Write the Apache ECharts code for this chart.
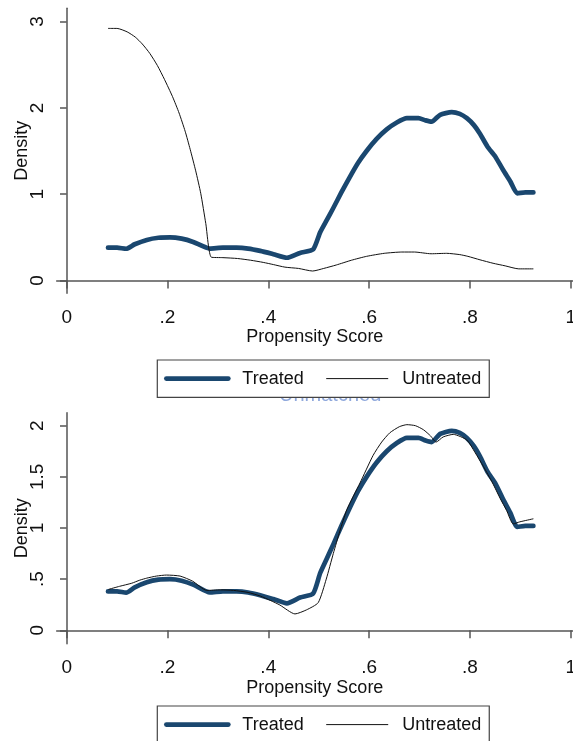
<!DOCTYPE html>
<html><head><meta charset="utf-8">
<script src="https://cdn.jsdelivr.net/npm/echarts@6/dist/echarts.min.js"></script>
<style>html,body{margin:0;padding:0;background:#fff}#c{width:573px;height:741px}</style>
</head><body><div id="c"></div>
<script>
const xTicks = [0, 0.2, 0.4, 0.6, 0.8, 1];
const yTicksTop = [0, 1, 2, 3];
const yTicksBottom = [0, 0.5, 1, 1.5, 2];
const seriesNames = ['Treated', 'Untreated'];
const hiddenTitle = 'Unmatched';

// Treated density (same in both panels)
const treated = [
  [0.082,0.38],[0.100,0.38],[0.118,0.368],[0.135,0.42],[0.159,0.47],[0.182,0.495],[0.205,0.50],
  [0.228,0.485],[0.251,0.447],[0.284,0.37],[0.310,0.38],[0.337,0.38],[0.360,0.37],[0.384,0.343],
  [0.410,0.305],[0.437,0.264],[0.463,0.32],[0.489,0.36],[0.503,0.56],[0.516,0.70],[0.529,0.84],
  [0.545,1.02],[0.562,1.20],[0.578,1.36],[0.595,1.50],[0.615,1.64],[0.635,1.75],[0.655,1.83],
  [0.675,1.88],[0.698,1.88],[0.712,1.855],[0.724,1.84],[0.741,1.92],[0.764,1.95],[0.780,1.93],
  [0.794,1.88],[0.808,1.80],[0.820,1.70],[0.835,1.55],[0.850,1.44],[0.866,1.28],[0.880,1.15],
  [0.894,1.01],[0.910,1.02],[0.926,1.02]
];
// Untreated density, top panel
const untreatedTop = [
  [0.082,2.92],[0.100,2.92],[0.120,2.88],[0.136,2.82],[0.150,2.74],[0.165,2.63],[0.180,2.49],
  [0.194,2.33],[0.210,2.13],[0.223,1.94],[0.235,1.73],[0.245,1.52],[0.256,1.27],[0.266,1.01],
  [0.276,0.66],[0.287,0.27],[0.310,0.265],[0.339,0.255],[0.365,0.235],[0.390,0.21],[0.410,0.185],
  [0.433,0.155],[0.460,0.14],[0.488,0.11],[0.510,0.14],[0.535,0.18],[0.565,0.235],[0.595,0.28],
  [0.630,0.315],[0.665,0.33],[0.690,0.33],[0.723,0.31],[0.754,0.315],[0.780,0.30],[0.796,0.28],
  [0.820,0.24],[0.846,0.20],[0.870,0.17],[0.897,0.135],[0.926,0.135]
];
// Untreated density, bottom panel
const untreatedBottom = [
  [0.083,0.40],[0.105,0.43],[0.129,0.46],[0.145,0.49],[0.159,0.51],[0.178,0.53],[0.198,0.54],
  [0.225,0.53],[0.250,0.48],[0.278,0.39],[0.305,0.395],[0.331,0.39],[0.360,0.37],[0.384,0.335],
  [0.405,0.29],[0.423,0.247],[0.453,0.16],[0.476,0.20],[0.499,0.27],[0.515,0.50],[0.529,0.75],
  [0.542,0.97],[0.556,1.18],[0.582,1.44],[0.608,1.71],[0.625,1.84],[0.641,1.93],[0.660,1.99],
  [0.675,2.01],[0.692,2.00],[0.708,1.96],[0.722,1.90],[0.733,1.84],[0.747,1.89],[0.767,1.915],
  [0.794,1.86],[0.810,1.74],[0.827,1.60],[0.845,1.44],[0.860,1.29],[0.873,1.17],[0.886,1.04],
  [0.899,1.06],[0.926,1.09]
];

const FONT = "'Liberation Sans',Arial,sans-serif";
const NAVY = '#1a476f';
const AX = '#555';
function fmt(v) { return String(+v.toFixed(2)).replace(/^0\./, '.'); }

function xAxis(gi) {
  return {
    type: 'value', gridIndex: gi, min: -0.0198, max: 1.0046,
    name: 'Propensity Score', nameLocation: 'middle', nameGap: 35, nameMoveOverlap: false,
    nameTextStyle: { fontFamily: FONT, fontSize: 18, color: '#111' },
    axisLine: { show: true, lineStyle: { color: AX, width: 1.5 } },
    axisTick: { show: true, customValues: xTicks, length: 8, lineStyle: { color: AX, width: 1.5 } },
    axisLabel: { customValues: xTicks, formatter: fmt, margin: 15, fontFamily: FONT, fontSize: 19, color: '#111', hideOverlap: false },
    splitLine: { show: false }
  };
}
function yAxis(gi, min, max, ticks) {
  return {
    type: 'value', gridIndex: gi, min: min, max: max,
    name: 'Density', nameLocation: 'middle', nameGap: 26, nameRotate: 90, nameMoveOverlap: false,
    nameTextStyle: { fontFamily: FONT, fontSize: 18, color: '#111' },
    axisLine: { show: true, lineStyle: { color: AX, width: 1.5 } },
    axisTick: { show: true, customValues: ticks, length: 6.7, lineStyle: { color: AX, width: 1.5 } },
    axisLabel: { customValues: ticks, formatter: fmt, rotate: 90, margin: 9, fontFamily: FONT, fontSize: 19, color: '#111' },
    splitLine: { show: false }
  };
}
function legend(top) {
  return {
    top: top, left: 157.3, orient: 'horizontal', data: seriesNames,
    itemWidth: 62, itemHeight: 14, itemGap: 22,
    padding: [6.6, 8, 6.7, 6.7],
    borderColor: '#444', borderWidth: 1.2, backgroundColor: '#fff', z: 5,
    selectedMode: false,
    itemStyle: { opacity: 0 },
    lineStyle: { width: 'inherit' },
    textStyle: { fontFamily: FONT, fontSize: 18, lineHeight: 24, color: '#111', padding: [0, 0, 0, 9] }
  };
}
function line(name, gi, data, thick) {
  return {
    name: name, type: 'line', xAxisIndex: gi, yAxisIndex: gi, data: data,
    symbol: 'none', smooth: 0.2, z: thick ? 3 : 4,
    lineStyle: thick ? { width: 4.7, color: NAVY, cap: 'round', join: 'round' } : { width: 1, color: '#111' },
    itemStyle: { color: thick ? NAVY : '#111' }
  };
}

const chart = echarts.init(document.getElementById('c'), null, { renderer: 'canvas' });
chart.setOption({
  animation: false,
  backgroundColor: '#fff',
  title: {
    text: hiddenTitle, left: 274, top: 380, z: 1, padding: 5,
    textStyle: { fontFamily: FONT, fontSize: 20, fontWeight: 'normal', color: '#8fa8dc' }
  },
  grid: [
    { left: 56.7, top: 8.3, width: 516.3, height: 285, outerBoundsMode: 'none', containLabel: false },
    { left: 56.7, top: 412.7, width: 516.3, height: 231, outerBoundsMode: 'none', containLabel: false }
  ],
  xAxis: [xAxis(0), xAxis(1)],
  yAxis: [yAxis(0, -0.148, 3.153, yTicksTop), yAxis(1, -0.131, 2.127, yTicksBottom)],
  legend: [legend(360), legend(706)],
  series: [
    line(seriesNames[0], 0, treated, true),
    line(seriesNames[1], 0, untreatedTop, false),
    line(seriesNames[0], 1, treated, true),
    line(seriesNames[1], 1, untreatedBottom, false)
  ]
});
</script></body></html>
